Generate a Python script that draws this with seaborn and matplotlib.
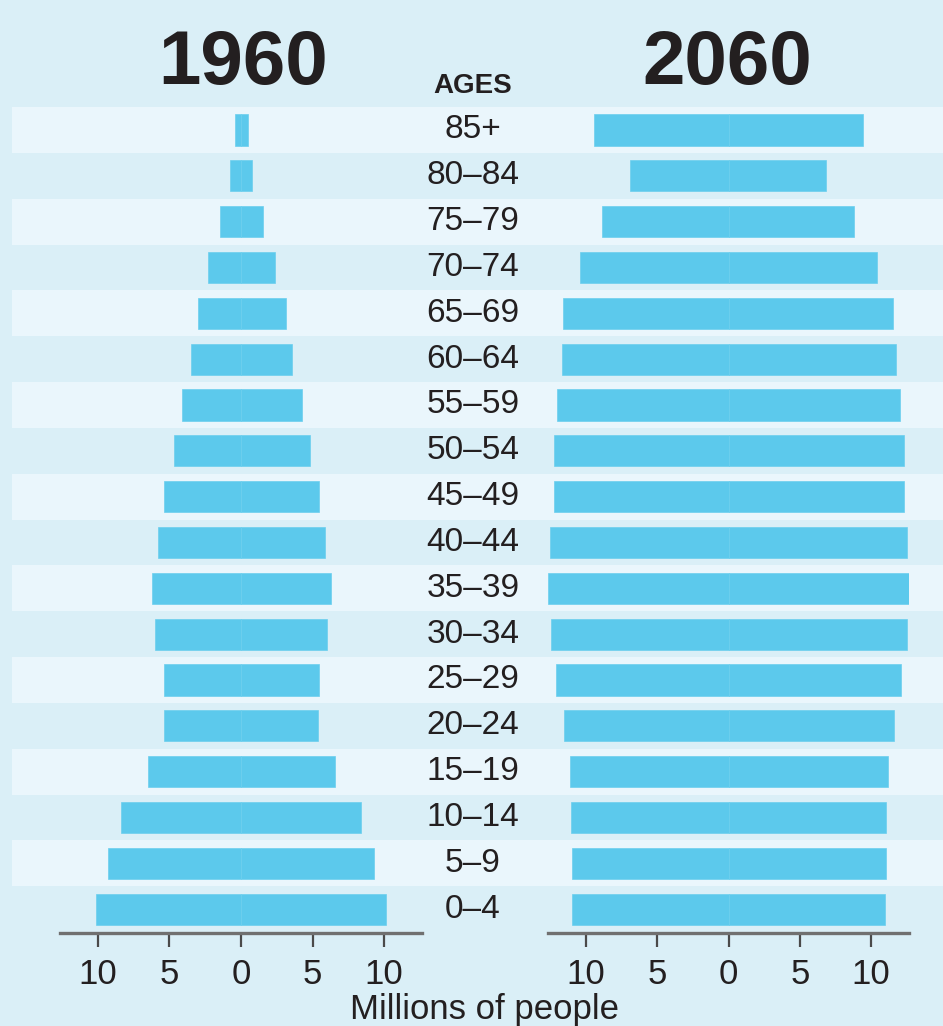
import numpy as np
import pandas as pd
import matplotlib
matplotlib.use("Agg")
import matplotlib.pyplot as plt
import seaborn as sns

# ---- data (millions of people) ----
ages = ["85+", "80–84", "75–79", "70–74", "65–69", "60–64", "55–59", "50–54",
        "45–49", "40–44", "35–39", "30–34", "25–29", "20–24", "15–19", "10–14",
        "5–9", "0–4"]
male_1960 = [0.45, 0.75, 1.5, 2.3, 3.0, 3.5, 4.1, 4.7, 5.4, 5.8, 6.25, 6.0,
             5.4, 5.4, 6.5, 8.4, 9.3, 10.1]
female_1960 = [0.5, 0.8, 1.55, 2.4, 3.15, 3.55, 4.25, 4.8, 5.45, 5.85, 6.3, 6.0,
               5.45, 5.4, 6.6, 8.4, 9.3, 10.1]
male_2060 = [9.45, 6.9, 8.9, 10.4, 11.6, 11.7, 12.0, 12.2, 12.2, 12.5, 12.65,
             12.45, 12.1, 11.55, 11.1, 11.05, 11.0, 11.0]
female_2060 = [9.45, 6.85, 8.8, 10.4, 11.5, 11.75, 12.0, 12.3, 12.3, 12.5, 12.65,
               12.5, 12.1, 11.6, 11.2, 11.05, 11.05, 11.0]
years = ["1960", "2060"]
tick_vals = [-10, -5, 0, 5, 10]
tick_labels = ["10", "5", "0", "5", "10"]

BAR = "#5cc9ec"
BG = "#daeff7"
STRIPE = "#eaf6fc"
TXT = "#231f20"

sns.set_theme(style="white")
plt.rcParams["font.family"] = ["Liberation Sans", "DejaVu Sans"]

W, H = 943, 1026
fig = plt.figure(figsize=(W / 100, H / 100), dpi=100, facecolor=BG)

def fx(px):
    return px / W

def fy(py):
    return 1 - py / H

ax_bottom_px, ax_top_px = 933, 107
ylim = (17.52, -0.5)

# background striped rows
bg = fig.add_axes([fx(12), fy(ax_bottom_px), fx(W - 12), (ax_bottom_px - ax_top_px) / H])
bg.set_facecolor(BG)
bg.set_xlim(0, 1)
bg.set_ylim(*ylim)
for i in range(len(ages)):
    if i % 2 == 0:
        bg.axhspan(i - 0.5, i + 0.5, color=STRIPE, lw=0)
    bg.text(fx(473 - 12) / fx(W - 12), i, ages[i], ha="center", va="center",
            fontsize=24, color=TXT)
bg.axis("off")

panels = [
    (60, 422, male_1960, female_1960),
    (548, 909, male_2060, female_2060),
]
for (x0, x1, m, f), yr in zip(panels, years):
    ax = fig.add_axes([fx(x0), fy(ax_bottom_px), fx(x1 - x0), (ax_bottom_px - ax_top_px) / H])
    ax.patch.set_alpha(0)
    df = pd.DataFrame({
        "age": ages * 2,
        "value": [-v for v in m] + list(f),
        "sex": ["Male"] * len(ages) + ["Female"] * len(ages),
    })
    sns.barplot(data=df, x="value", y="age", hue="sex", order=ages, dodge=False,
                palette=[BAR, BAR], legend=False, width=0.68, ax=ax,
                edgecolor="#6ccfee", linewidth=0.5, saturation=1)
    ax.set_xlim(-12.65, 12.65)
    ax.set_ylim(*ylim)
    ax.set_xticks(tick_vals)
    ax.set_xticklabels(tick_labels)
    ax.set_yticks([])
    ax.set_xlabel("")
    ax.set_ylabel("")
    for s in ["left", "right", "top"]:
        ax.spines[s].set_visible(False)
    ax.spines["bottom"].set_color("#707070")
    ax.spines["bottom"].set_linewidth(2.4)
    ax.tick_params(axis="x", direction="out", length=10, width=1.6, color="#4a4a4a",
                   labelsize=25, labelcolor=TXT, pad=8, bottom=True)

title_family = ["Liberation Sans Narrow", "Liberation Sans"]
fig.text(fx(243), fy(84), "1960", ha="center", va="baseline", fontsize=55,
         fontweight="bold", color=TXT, family=title_family)
fig.text(fx(727), fy(84), "2060", ha="center", va="baseline", fontsize=55,
         fontweight="bold", color=TXT, family=title_family)
fig.text(fx(473), fy(93), "AGES", ha="center", va="baseline", fontsize=20,
         fontweight="bold", color=TXT)
fig.text(fx(485), fy(1019), "Millions of people", ha="center", va="baseline",
         fontsize=25, color=TXT)

fig.savefig("out.png", dpi=100, facecolor=BG)
